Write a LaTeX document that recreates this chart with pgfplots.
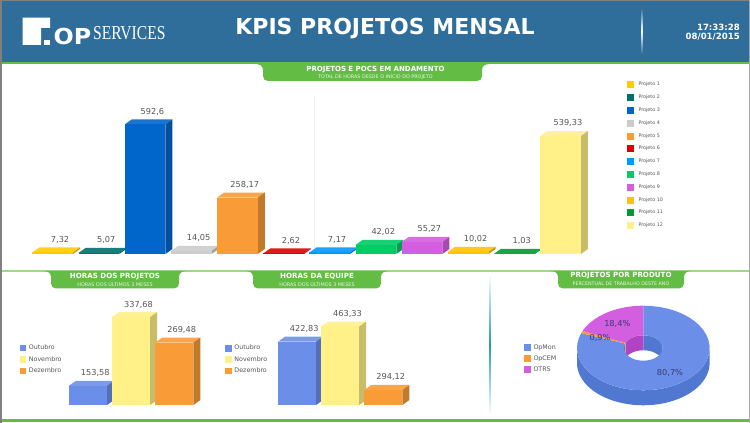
\documentclass[border=0pt]{standalone}
\usepackage{fontspec}
\setmainfont{DejaVu Sans}
\newfontfamily\logoserif{Liberation Serif}
\usepackage{pgfplots}
\pgfplotsset{compat=1.18}
\definecolor{hdr}{HTML}{2F6E9B}
\definecolor{grn}{HTML}{63BD45}
\definecolor{lgrn}{HTML}{9ADB88}
\definecolor{txt}{HTML}{555555}
\definecolor{pa}{HTML}{FFCC00}\definecolor{pb}{HTML}{00706B}\definecolor{pc}{HTML}{0066CC}
\definecolor{pd}{HTML}{CCCCCC}\definecolor{pe}{HTML}{F99B36}\definecolor{pf}{HTML}{DD0000}
\definecolor{pg}{HTML}{0099FF}\definecolor{ph}{HTML}{00CC66}\definecolor{pi}{HTML}{D35FE0}
\definecolor{pj}{HTML}{FFC400}\definecolor{pk}{HTML}{009933}\definecolor{pl}{HTML}{FFF188}
\definecolor{mb}{HTML}{6B8FE8}\definecolor{mbd}{HTML}{5078D0}\definecolor{mpd}{HTML}{B044C4}
\newcommand{\fs}[1]{\fontsize{#1}{#1}\selectfont}
\newcommand{\tab}[4]{\fill[grn] (#1-8,#3) .. controls (#1-3,#3) and (#1,#3+2) .. (#1,#3+6) -- (#1,#4-5) .. controls (#1,#4-2) and (#1+2,#4) .. (#1+5,#4) -- (#2-5,#4) .. controls (#2-2,#4) and (#2,#4-2) .. (#2,#4-5) -- (#2,#3+6) .. controls (#2,#3+2) and (#2+3,#3) .. (#2+8,#3) -- cycle;}
\pgfplotsset{
  swatch/.style={legend image code/.code={\fill (0pt,-#1/2) rectangle (#1,#1/2);}},
  panel/.style={anchor=south west,scale only axis,hide axis,enlargelimits=false},
  lab/.style={forget plot,draw=none,mark=none,nodes near coords,point meta=explicit symbolic,
    every node near coord/.append style={anchor=center,inner sep=0pt,xshift=7.3pt,yshift=12.6pt,text=txt,font=\fs{8.2}}},
}
\newcommand{\tdbar}[3]{%
  \pgfmathsetmacro\xl{#1-\hw}\pgfmathsetmacro\xr{#1+\hw}%
  \pgfmathsetmacro\xlb{\xl+\ddx}\pgfmathsetmacro\xrb{\xr+\ddx}%
  \pgfmathsetmacro\vb{#2+\ddy}\pgfmathsetmacro\bb{\base+\ddy}%
  \addplot[forget plot,fill=#3!90!white,draw=none] coordinates {(\xl,#2)(\xr,#2)(\xrb,\vb)(\xlb,\vb)};
  \addplot[forget plot,fill=#3!78!black,draw=none] coordinates {(\xr,\base)(\xr,#2)(\xrb,\vb)(\xrb,\bb)};
  \addplot[ybar,bar width=\bw,fill=#3,draw=none,swatch=\sw] coordinates {(#1,#2)};
}
\newcommand{\addarc}[5]{%
  \pgfmathsetmacro\da{(#2-(#1))/40}%
  \foreach \k in {0,...,40}{%
    \pgfmathsetmacro\ang{#1+\k*\da}%
    \pgfmathsetmacro\ptx{#3*cos(\ang)}%
    \pgfmathsetmacro\pty{#4*sin(\ang)+#5}%
    \xdef\coords{\coords (\ptx,\pty)}%
  }}
\newcommand{\flushpoly}[1]{\edef\temp{\noexpand\addplot[forget plot,fill=#1,draw=none] coordinates {\coords};}\temp}
\newcommand{\ring}[3]{\gdef\coords{}\addarc{#1}{#2}{66.3}{42.3}{0}\addarc{#2}{#1}{19.3}{12.7}{0}\flushpoly{#3}}
\newcommand{\wallout}[3]{\gdef\coords{}\addarc{#1}{#2}{66.3}{42.3}{0}\addarc{#2}{#1}{66.3}{42.3}{-15}\flushpoly{#3}}
\newcommand{\wallin}[3]{\gdef\coords{}\addarc{#1}{#2}{19.3}{12.7}{0}\addarc{#2}{#1}{19.3}{12.7}{-15}\flushpoly{#3}}
\begin{document}
\begin{tikzpicture}[x=1pt,y=1pt]
\useasboundingbox (0,0) rectangle (750,423);
\begin{scope}[shift={(0pt,423pt)},x=1pt,y=-1pt]
  \fill[white] (0,0) rectangle (750,423);
  \fill[hdr] (0,0) rectangle (750,62);
  \fill[grn] (0,62) rectangle (750,64.5);
  \fill[lgrn] (0,270.3) rectangle (750,271.8);
  \fill[grn] (0,419) rectangle (750,422.3);
  \fill[gray] (0,0) rectangle (750,1.3);
  \fill[gray] (0,0) rectangle (1.5,423);
  \fill[gray!70] (749.3,0) rectangle (750,423);
  \tab{263}{482}{64}{81}
  \tab{51}{179}{271}{288.5}
  \tab{253}{381}{271}{288.5}
  \tab{558}{684}{271}{288.5}
  % logo
  \fill[white] (22.7,17.7) -- (50,17.7) -- (50,28) -- (41,28) -- (41,45) -- (22.7,45) -- cycle;
  \fill[white] (44,40) rectangle (50,45);
  \node[anchor=base west,inner sep=0pt,text=white] at (53.5,45) {\fs{22}\bfseries\scalebox{1.08}[1]{OP}};
  \node[anchor=base west,inner sep=0pt,text=white] at (93,40) {\fs{19.7}\logoserif\scalebox{0.79}[1]{SERVICES}};
  \node[text=white,inner sep=0pt] at (385,28.5) {\fs{22}\bfseries KPIS PROJETOS MENSAL};
  \shade[top color=hdr,bottom color=hdr,middle color=white] (641.7,8) rectangle (642.7,54);
  \node[anchor=east,text=white,inner sep=0pt] at (740,27) {\fs{8.6}\bfseries 17:33:28};
  \node[anchor=east,text=white,inner sep=0pt] at (740,37) {\fs{8.6}\bfseries 08/01/2015};
  \node[text=white,inner sep=0pt] at (375.5,69.5) {\fs{7}\bfseries PROJETOS E POCS EM ANDAMENTO};
  \node[text=white!85!grn,inner sep=0pt] at (375.5,77) {\fs{4.85}TOTAL DE HORAS DESDE O INÍCIO DO PROJETO};
  \node[text=white,inner sep=0pt] at (115,276.5) {\fs{7.1}\bfseries HORAS DOS PROJETOS};
  \node[text=white!85!grn,inner sep=0pt] at (115,284) {\fs{4.9}HORAS DOS ÚLTIMOS 3 MESES};
  \node[text=white,inner sep=0pt] at (317,276.5) {\fs{7.1}\bfseries HORAS DA EQUIPE};
  \node[text=white!85!grn,inner sep=0pt] at (317,284) {\fs{4.9}HORAS DOS ÚLTIMOS 3 MESES};
  \node[text=white,inner sep=0pt] at (621,276) {\fs{7.1}\bfseries PROJETOS POR PRODUTO};
  \node[text=white!85!grn,inner sep=0pt] at (621,283.5) {\fs{4.8}PERCENTUAL DE TRABALHO DESTE ANO};
  \fill[gray!12] (314,95) rectangle (314.7,254);
  \shade[top color=white,bottom color=white,middle color=hdr!70!cyan] (489.2,275) rectangle (490.4,415);
\end{scope}

% main chart
\def\hw{0.44}\def\ddx{0.1516}\def\ddy{22.85}\def\base{0}\def\bw{40.6pt}\def\sw{7pt}
\begin{axis}[panel,at={(6.6pt,169pt)},width=600.2pt,height=157.5pt,xmin=0,xmax=13,ymin=0,ymax=720,
  legend cell align=left,
  legend style={at={(1.034,1.096)},anchor=north west,draw=none,fill=none,inner sep=0pt,outer sep=0pt,
    font=\fs{4.8},text=txt,row sep=5.8pt,column sep=4.3pt,nodes={inner sep=0pt,text height=3.5pt,text depth=1.5pt}}]
\tdbar{1}{7.32}{pa}\addlegendentry{Projeto 1}
\tdbar{2}{5.07}{pb}\addlegendentry{Projeto 2}
\tdbar{3}{592.6}{pc}\addlegendentry{Projeto 3}
\tdbar{4}{14.05}{pd}\addlegendentry{Projeto 4}
\tdbar{5}{258.17}{pe}\addlegendentry{Projeto 5}
\tdbar{6}{2.62}{pf}\addlegendentry{Projeto 6}
\tdbar{7}{7.17}{pg}\addlegendentry{Projeto 7}
\tdbar{8}{42.02}{ph}\addlegendentry{Projeto 8}
\tdbar{9}{55.27}{pi}\addlegendentry{Projeto 9}
\tdbar{10}{10.02}{pj}\addlegendentry{Projeto 10}
\tdbar{11}{1.03}{pk}\addlegendentry{Projeto 11}
\tdbar{12}{539.33}{pl}\addlegendentry{Projeto 12}
\addplot[lab] coordinates {(1,7.32)[7,32] (2,5.07)[5,07] (3,592.6)[592,6] (4,14.05)[14,05] (5,258.17)[258,17] (6,2.62)[2,62] (7,7.17)[7,17] (8,42.02)[42,02] (9,55.27)[55,27] (10,10.02)[10,02] (11,1.03)[1,03] (12,539.33)[539,33]};
\end{axis}

% horas dos projetos
\def\hw{0.44}\def\ddx{0.162}\def\ddy{13.4}\def\base{102}\def\bw{38pt}\def\sw{6.5pt}
\begin{axis}[panel,at={(44.8pt,18pt)},width=172.8pt,height=111.2pt,xmin=0,xmax=4,ymin=102,ymax=400,
  legend cell align=left,
  legend style={at={(-0.145,0.54)},anchor=north west,draw=none,fill=none,inner sep=0pt,outer sep=0pt,
    font=\fs{6.3},text=txt,row sep=4.8pt,column sep=2.7pt,nodes={inner sep=0pt,text height=4.8pt,text depth=1.5pt}}]
\tdbar{1}{153.58}{mb}\addlegendentry{Outubro}
\tdbar{2}{337.68}{pl}\addlegendentry{Novembro}
\tdbar{3}{269.48}{pe}\addlegendentry{Dezembro}
\addplot[lab] coordinates {(1,153.58)[153,58] (2,337.68)[337,68] (3,269.48)[269,48]};
\end{axis}

% horas da equipe
\def\ddy{13.33}\def\base{254}
\begin{axis}[panel,at={(253.8pt,18pt)},width=172.8pt,height=111pt,xmin=0,xmax=4,ymin=254,ymax=550,
  legend cell align=left,
  legend style={at={(-0.165,0.54)},anchor=north west,draw=none,fill=none,inner sep=0pt,outer sep=0pt,
    font=\fs{6.3},text=txt,row sep=4.8pt,column sep=2.7pt,nodes={inner sep=0pt,text height=4.8pt,text depth=1.5pt}}]
\tdbar{1}{422.83}{mb}\addlegendentry{Outubro}
\tdbar{2}{463.33}{pl}\addlegendentry{Novembro}
\tdbar{3}{294.12}{pe}\addlegendentry{Dezembro}
\addplot[lab] coordinates {(1,422.83)[422,83] (2,463.33)[463,33] (3,294.12)[294,12]};
\end{axis}

% projetos por produto: 80.7, 0.9, 18.4 per cent, clockwise from the top
\begin{axis}[panel,at={(573.3pt,15pt)},width=140pt,height=110pt,xmin=-70,xmax=70,ymin=-60,ymax=50,
  legend cell align=left,
  legend style={at={(-0.35,0.58)},anchor=north west,draw=none,fill=none,inner sep=0pt,outer sep=0pt,
    font=\fs{6.3},text=txt,row sep=4.5pt,column sep=2.7pt,nodes={inner sep=0pt,text height=4.8pt,text depth=1.5pt}}]
\addlegendimage{swatch=6.5pt,draw=none,fill=mb}\addlegendentry{OpMon}
\addlegendimage{swatch=6.5pt,draw=none,fill=pe}\addlegendentry{OpCEM}
\addlegendimage{swatch=6.5pt,draw=none,fill=pi}\addlegendentry{OTRS}
\pgfmathsetmacro\angA{90-3.6*80.7}
\pgfmathsetmacro\angB{90-3.6*(80.7+0.9)}
\pgfmathsetmacro\angAp{\angA+360}
\pgfmathsetmacro\angBp{\angB+360}
\wallout{180}{360}{mbd}
\wallin{0}{90}{mbd}
\wallin{90}{\angBp}{mpd}
\wallin{\angBp}{\angAp}{pe}
\wallin{\angAp}{180}{mbd}
\ring{90}{\angA}{mb}
\ring{\angA}{\angB}{pe}
\ring{\angB}{-270}{pi}
\addplot[forget plot,draw=none,mark=none,nodes near coords,point meta=explicit symbolic,
  every node near coord/.append style={anchor=center,inner sep=0pt,text=black!60!blue!55!gray,font=\fs{8.2}}]
  coordinates {(26.7,-25.3)[80,7\%] (-26,24.3)[18,4\%] (-43.3,10.3)[0,9\%]};
\end{axis}
\end{tikzpicture}
\end{document}
